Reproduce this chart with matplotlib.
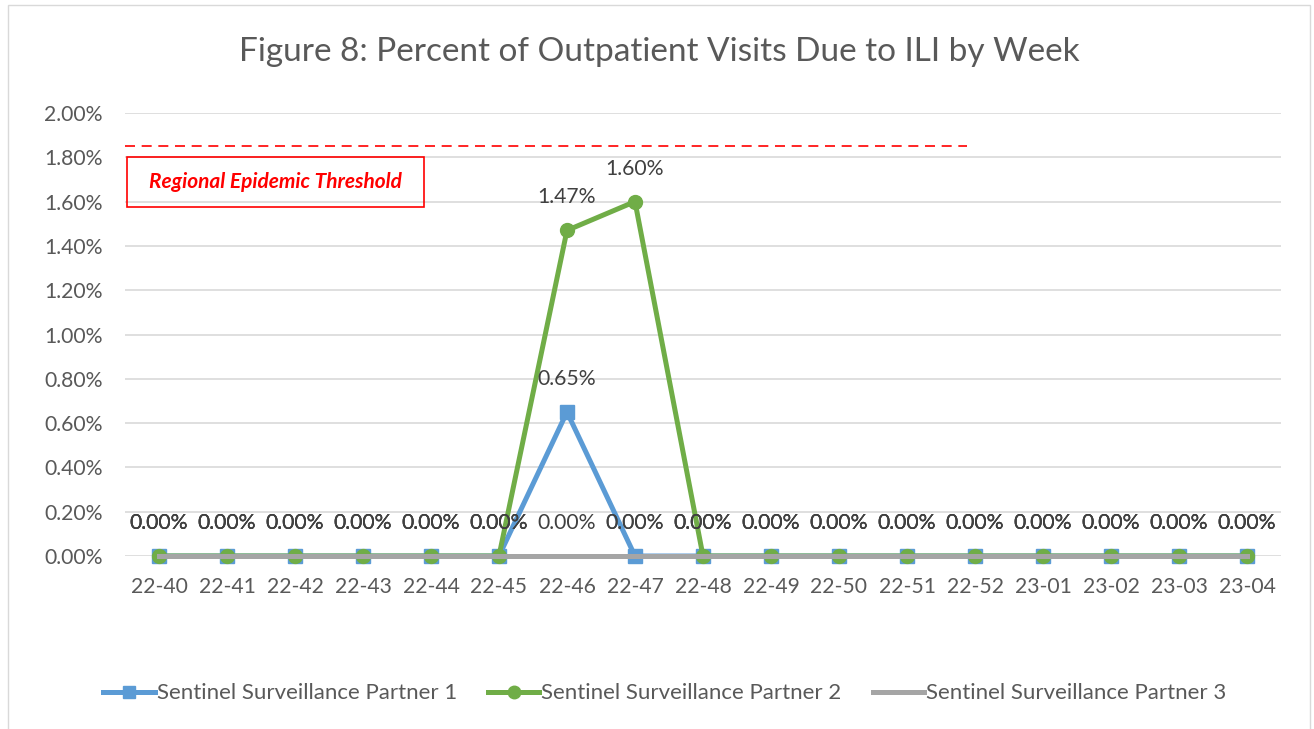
import numpy as np
import matplotlib.pyplot as plt
from matplotlib.patches import Rectangle

plt.rcParams['font.family'] = ['Lato', 'DejaVu Sans']

# Weekly ILI percentages per sentinel partner
weeks = ['22-40', '22-41', '22-42', '22-43', '22-44', '22-45', '22-46', '22-47', '22-48',
         '22-49', '22-50', '22-51', '22-52', '23-01', '23-02', '23-03', '23-04']
partner1 = [0, 0, 0, 0, 0, 0, 0.65, 0, 0, 0, 0, 0, 0, 0, 0, 0, 0]
partner2 = [0, 0, 0, 0, 0, 0, 1.47, 1.60, 0, 0, 0, 0, 0, 0, 0, 0, 0]
partner3 = [0, 0, 0, 0, 0, 0, 0, 0, 0, 0, 0, 0, 0, 0, 0, 0, 0]
threshold = 1.85
yticks = [0, 0.2, 0.4, 0.6, 0.8, 1.0, 1.2, 1.4, 1.6, 1.8, 2.0]

blue = '#5B9BD5'
green = '#70AD47'
gray = '#A5A5A5'
txt = '#595959'
lbl = '#404040'

fig = plt.figure(figsize=(13.14, 7.29), dpi=100)
ax = fig.add_axes([0.0951, 0.2373, 0.8798, 0.6077])

x = np.arange(len(weeks))
ax.plot(x, partner1, color=blue, lw=3.6, marker='s', ms=10, label='Sentinel Surveillance Partner 1',
        zorder=3, clip_on=False)
ax.plot(x, partner2, color=green, lw=3.6, marker='o', ms=10, label='Sentinel Surveillance Partner 2',
        zorder=4, clip_on=False)
ax.plot(x, partner3, color=gray, lw=3.6, label='Sentinel Surveillance Partner 3', zorder=5, clip_on=False)

# data labels
for series in (partner1, partner2, partner3):
    for xi, v in zip(x, series):
        ax.annotate(f'{v:.2f}%', (xi, v), xytext=(0, 33), textcoords='offset pixels',
                    ha='center', va='center', fontsize=15.2, color=lbl, zorder=6)

# threshold line and label box
ax.axhline(threshold, xmin=0, xmax=0.728, color='#FF0000', lw=1.2, ls=(0, (6, 4)), zorder=2)
ax.add_patch(Rectangle((0.0017, 0.788), 0.257, 0.113, transform=ax.transAxes,
                       fill=False, edgecolor='#FF0000', lw=1.2, zorder=6))
ax.text(0.1302, 0.8445, 'Regional Epidemic Threshold', transform=ax.transAxes,
        ha='center', va='center', color='#FF0000', fontsize=15, fontweight='bold',
        fontstyle='italic', zorder=7)

ax.set_xlim(-0.5, len(weeks) - 0.5)
ax.set_ylim(0, 2.0)
ax.set_xticks(x)
ax.set_xticklabels(weeks)
ax.set_yticks(yticks)
ax.set_yticklabels([f'{t:.2f}%' for t in yticks])
ax.tick_params(axis='both', length=0, labelsize=15.2, labelcolor=txt)
ax.tick_params(axis='x', pad=15)
ax.tick_params(axis='y', pad=16)
ax.grid(axis='y', color='#D9D9D9', lw=1.2)
ax.set_axisbelow(True)
for s in ax.spines.values():
    s.set_visible(False)

fig.text(0.502, 1 - 52 / 729, 'Figure 8: Percent of Outpatient Visits Due to ILI by Week',
         ha='center', va='center', fontsize=24, color=txt)

fig.legend(loc='center', bbox_to_anchor=(0.506, 0.049), ncol=3, frameon=False,
           fontsize=16, labelcolor=txt, handlelength=2.3, handletextpad=0.1,
           columnspacing=1.4, markerscale=0.9)

# outer chart border
fig.add_artist(Rectangle((8 / 1314, -0.01), 1 - 12 / 1314, 1 - 5 / 729 + 0.01,
                         transform=fig.transFigure, fill=False, edgecolor='#D9D9D9', lw=1))

fig.savefig('out.png', dpi=100)
